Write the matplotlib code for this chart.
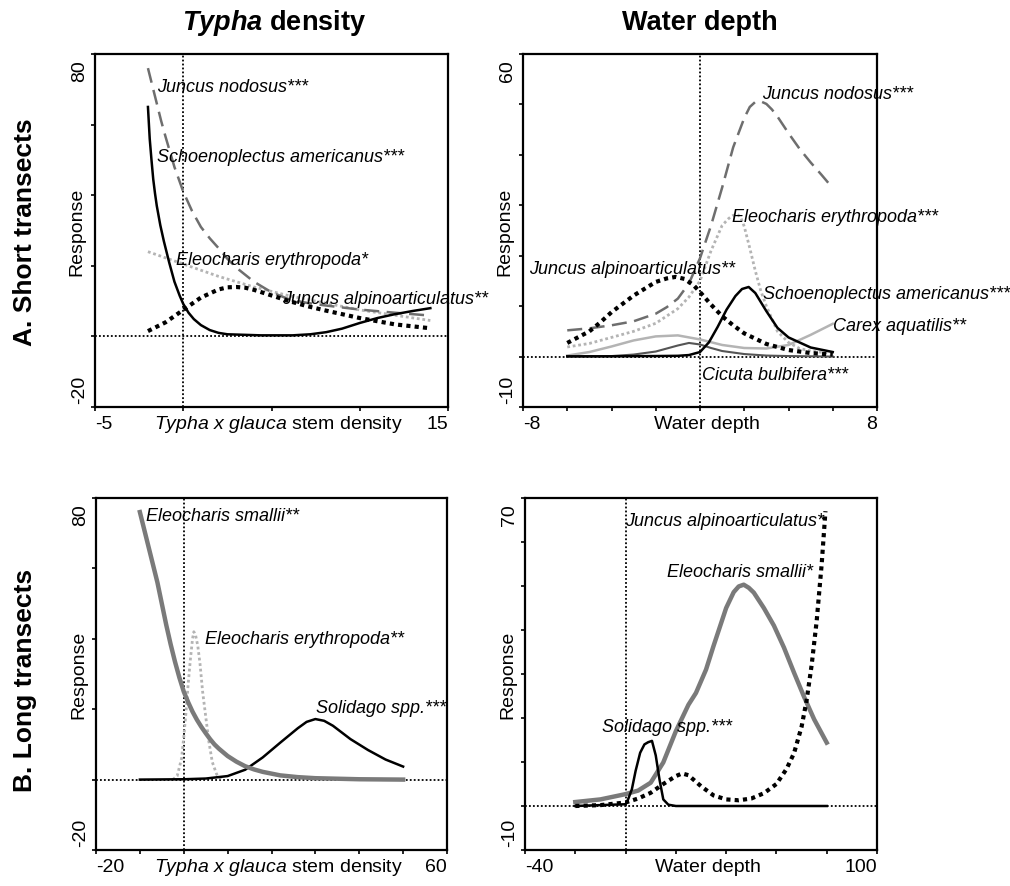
import matplotlib
matplotlib.use("Agg")
import matplotlib.pyplot as plt
import numpy as np

plt.rcParams['font.family'] = ['Liberation Sans', 'DejaVu Sans']
plt.rcParams['mathtext.fontset'] = 'custom'
plt.rcParams['mathtext.it'] = 'Liberation Sans:italic'
plt.rcParams['mathtext.rm'] = 'Liberation Sans'
plt.rcParams['mathtext.bf'] = 'Liberation Sans:bold:italic'

# ---------------- Data ----------------
# Panel A-left: Short transects, Typha density
a1_jn_x = [-2, -1.75, -1.5, -1.25, -1, -0.5, 0, 0.5, 1, 1.5, 2, 2.5, 3, 4, 5, 6, 7, 8, 10, 12, 14]
a1_jn_y = [76, 71, 66, 61, 56.5, 48, 41, 35.5, 31, 27.8, 25, 22, 19.5, 15.5, 12.5, 10.5, 9.5, 8.8, 7.6, 6.7, 5.9]
a1_sa_x = [-2, -1.9, -1.8, -1.7, -1.6, -1.5, -1.3, -1.1, -0.8, -0.5, -0.2, 0, 0.3, 0.6, 1, 1.5, 2, 2.5, 4.4, 6.2, 7.2, 8.1, 9, 10, 11, 11.9, 13, 14]
a1_sa_y = [65, 56, 50, 44.5, 40.5, 37, 31.5, 27, 21, 15.5, 11.5, 9.2, 6.7, 4.9, 3.2, 1.8, 1.0, 0.6, 0.3, 0.3, 0.6, 1.2, 2.2, 3.8, 5.2, 6.2, 7.2, 8]
a1_ee_x = [-2, 0, 2, 4, 6, 8, 10, 12, 14]
a1_ee_y = [24, 20.5, 17, 14, 11.5, 9.5, 7.5, 6, 4.5]
a1_ja_x = [-2, -1, 0, 1, 2, 2.5, 3, 3.5, 4, 5, 6, 7, 8, 10, 12, 14]
a1_ja_y = [1.5, 4, 7.5, 11, 13.3, 13.9, 14, 13.8, 13.2, 11.6, 10, 8.6, 7.4, 5.2, 3.4, 2.3]

# Panel A-right: Short transects, water depth
a2_jn_x = [-6, -5, -4, -3, -2, -1.5, -1, -0.5, 0, 0.5, 1, 1.5, 2, 2.25, 2.5, 2.75, 3, 3.25, 3.5, 4, 4.5, 5, 5.5, 6]
a2_jn_y = [5.2, 5.6, 6.2, 7, 8.5, 9.8, 11.5, 14.5, 19.5, 26, 33.5, 41.5, 47.3, 49.5, 50.5, 50.6, 50.1, 49, 47.6, 44.3, 41.2, 38.5, 36, 33.4]
a2_ee_x = [-6, -5, -4, -3, -2, -1, -0.5, 0, 0.5, 1, 1.3, 1.5, 1.7, 1.85, 2, 2.25, 2.5, 2.75, 3, 3.5, 4, 4.5, 5, 6]
a2_ee_y = [1.9, 2.6, 3.8, 5, 6.6, 9.5, 11.8, 15, 21, 26, 27.4, 28, 28.2, 27.5, 25.8, 21.5, 17, 13, 10, 5, 2.8, 1.6, 1.1, 0.6]
a2_ja_x = [-6, -5, -4.5, -4, -3, -2, -1.5, -1.1, -0.7, -0.3, 0, 0.5, 1, 1.5, 2, 3, 4, 5, 6]
a2_ja_y = [2.7, 5.0, 6.8, 8.8, 12.1, 14.8, 15.5, 15.8, 15.4, 14.2, 12.8, 10.3, 8.0, 6.2, 4.6, 2.5, 1.3, 0.7, 0.4]
a2_sa_x = [-6, -4, -2, -1, -0.5, 0, 0.4, 0.8, 1.2, 1.6, 1.9, 2.2, 2.5, 2.75, 3.0, 3.5, 4.0, 5.0, 6.0]
a2_sa_y = [0.05, 0.05, 0.1, 0.15, 0.3, 0.9, 2.8, 5.9, 9.3, 12.0, 13.4, 13.8, 12.6, 10.8, 9.0, 5.7, 3.8, 1.8, 0.9]
a2_ca_x = [-6, -5, -4, -3, -2, -1, 0, 1, 2, 3, 4, 5, 6]
a2_ca_y = [0.2, 0.9, 2.0, 3.2, 4.0, 4.2, 3.4, 2.3, 1.7, 1.6, 2.3, 4.3, 6.5]
a2_cb_x = [-6, -4, -3, -2, -1, -0.5, 0, 0.5, 1, 2, 3, 4, 6]
a2_cb_y = [0, 0.1, 0.4, 1.0, 2.2, 2.7, 2.4, 1.7, 1.1, 0.5, 0.2, 0.1, 0]

# Panel B-left: Long transects, Typha density
b1_es_x = [-10, -9, -8, -7, -6, -5, -4, -3, -2, -1, 0, 1, 2, 3, 4, 5, 6, 7, 8, 10, 12, 14, 16, 18, 22, 26, 30, 40, 50]
b1_es_y = [76, 71, 66, 61, 56, 50, 44, 38.5, 33.5, 29, 25, 22, 19.3, 17, 15, 13.2, 11.5, 10, 8.8, 6.7, 5.1, 3.8, 2.9, 2.2, 1.2, 0.7, 0.4, 0.1, 0]
b1_ee_x = [-2.5, -1.5, -0.5, 0, 0.5, 1, 1.5, 2, 2.3, 2.7, 3.2, 3.7, 4.3, 5, 5.7, 6.5, 7.5, 8.5]
b1_ee_y = [0, 1, 6, 12, 19, 27, 34, 40, 42, 41, 38, 33, 25, 18, 11, 5, 1.5, 0.2]
b1_so_x = [-10, 0, 5, 10, 14, 18, 22, 26, 28, 30, 32, 34, 38, 42, 46, 50]
b1_so_y = [0, 0.1, 0.3, 1.0, 2.8, 6.3, 10.5, 14.6, 16.4, 17.2, 16.7, 15.3, 11.5, 8.4, 5.7, 3.7]

# Panel B-right: Long transects, water depth
b2_es_x = [-20, -10, 0, 5, 10, 15, 20, 25, 28, 32, 35, 40, 43, 45, 47, 49, 51, 55, 59, 63, 67, 71, 75, 80]
b2_es_y = [0.9, 1.5, 2.7, 3.5, 5.3, 9.9, 17, 23, 25.7, 31, 36.4, 45, 48.6, 49.9, 50.3, 49.6, 48.5, 45, 41, 36, 30.3, 24.8, 19.7, 14.4]
b2_ja_x = [-20, -10, 0, 5, 10, 15, 20, 22.5, 25, 30, 35, 40, 45, 50, 55, 60, 64, 67, 70, 72, 74, 76, 78, 79.5]
b2_ja_y = [0, 0.2, 0.8, 1.7, 3.0, 5.0, 6.8, 7.4, 7.0, 4.5, 2.4, 1.5, 1.3, 1.7, 2.9, 5.0, 8.4, 12, 18, 24, 32, 42, 55, 67]
b2_so_x = [-20, 0, 1, 2.5, 4, 5.8, 7.5, 9, 10.5, 12, 13.5, 15, 17, 20, 30, 50, 80]
b2_so_y = [0, 0.4, 1.5, 3.8, 8, 12.1, 14, 14.5, 14.8, 11.5, 6, 1.5, 0.3, 0, 0, 0, 0]

# axis definitions
a1_xlim, a1_ylim = (-5, 15), (-20, 80)
a2_xlim, a2_ylim = (-8, 8), (-10, 60)
b1_xlim, b1_ylim = (-20, 60), (-20, 80)
b2_xlim, b2_ylim = (-40, 100), (-10, 70)

# ---------------- Styles ----------------
DARKGRAY = '#6e6e6e'
LIGHTGRAY = '#b4b4b4'
MIDGRAY = '#7a7a7a'

sty_dash = dict(color=DARKGRAY, lw=1.8, ls=(0, (6, 3)))
sty_black = dict(color='black', lw=1.8, ls='-')
sty_ldot = dict(color=LIGHTGRAY, lw=2.0, ls=(0, (1, 1)))
sty_bdot = dict(color='black', lw=3.0, ls=(0, (1, 1)))
sty_thick = dict(color=MIDGRAY, lw=3.2, ls='-')
sty_lsolid = dict(color=LIGHTGRAY, lw=1.8, ls='-')
sty_dsolid = dict(color='#555555', lw=1.5, ls='-')

W, H = 1010, 887
fig = plt.figure(figsize=(W / 100, H / 100), dpi=100)


def px_axes(l, t, r, b):
    return fig.add_axes([l / W, 1 - b / H, (r - l) / W, (b - t) / H])


LBL = 13
AX = 14


def setup(ax, xlim, ylim, xstep, ystep, yl_txt_lo, yl_txt_hi, xlab, xl_lo, xl_hi):
    ax.set_xlim(*xlim)
    ax.set_ylim(*ylim)
    ax.set_xticks(np.arange(xlim[0], xlim[1] + 0.001, xstep))
    ax.set_yticks(np.arange(ylim[0], ylim[1] + 0.001, ystep))
    ax.tick_params(direction='out', length=3, width=1.2, labelbottom=False, labelleft=False)
    for s in ax.spines.values():
        s.set_linewidth(1.6)
    ax.axhline(0, color='black', lw=1.3, ls=(0, (1, 1.2)), zorder=1)
    ax.axvline(0, color='black', lw=1.3, ls=(0, (1, 1.2)), zorder=1)
    ax.text(-0.043, 0.985, yl_txt_hi, rotation=90, ha='center', va='top',
            transform=ax.transAxes, fontsize=AX)
    ax.text(-0.043, 0.01, yl_txt_lo, rotation=90, ha='center', va='bottom',
            transform=ax.transAxes, fontsize=AX)
    ax.text(0.0, -0.047, xl_lo, ha='left', va='center', transform=ax.transAxes, fontsize=AX)
    ax.text(1.0, -0.047, xl_hi, ha='right', va='center', transform=ax.transAxes, fontsize=AX)
    ax.text(0.52, -0.047, xlab, ha='center', va='center', transform=ax.transAxes, fontsize=AX)
    ax.text(-0.05, 0.5, 'Response', rotation=90, ha='center', va='center',
            transform=ax.transAxes, fontsize=AX)


def lab(ax, x, y, s):
    ax.text(x, y, s, style='italic', fontsize=LBL, ha='left', va='center', zorder=5,
            clip_on=False)


typha_lab = r'$\it{Typha\ x\ glauca}$ stem density'

# ---- Panel A1 ----
ax1 = px_axes(95, 55, 448, 408)
setup(ax1, a1_xlim, a1_ylim, 5, 20, '-20', '80', typha_lab, '-5', '15')
ax1.plot(a1_ee_x, a1_ee_y, **sty_ldot)
ax1.plot(a1_jn_x, a1_jn_y, **sty_dash)
ax1.plot(a1_ja_x, a1_ja_y, **sty_bdot)
ax1.plot(a1_sa_x, a1_sa_y, **sty_black)
lab(ax1, -1.49, 70.7, 'Juncus nodosus***')
lab(ax1, -1.49, 51.1, 'Schoenoplectus americanus***')
lab(ax1, -0.41, 21.9, 'Eleocharis erythropoda*')
lab(ax1, 5.6, 10.6, 'Juncus alpinoarticulatus**')

# ---- Panel A2 ----
ax2 = px_axes(523, 55, 877, 408)
setup(ax2, a2_xlim, a2_ylim, 2, 10, '-10', '60', 'Water depth', '-8', '8')
ax2.plot(a2_ca_x, a2_ca_y, **sty_lsolid)
ax2.plot(a2_cb_x, a2_cb_y, **sty_dsolid)
ax2.plot(a2_ee_x, a2_ee_y, **sty_ldot)
ax2.plot(a2_jn_x, a2_jn_y, **sty_dash)
ax2.plot(a2_ja_x, a2_ja_y, **sty_bdot)
ax2.plot(a2_sa_x, a2_sa_y, **sty_black)
lab(ax2, 2.8, 52.1, 'Juncus nodosus***')
lab(ax2, 1.45, 27.7, 'Eleocharis erythropoda***')
lab(ax2, -7.73, 17.4, 'Juncus alpinoarticulatus**')
lab(ax2, 2.85, 12.6, 'Schoenoplectus americanus***')
lab(ax2, 6.0, 6.1, 'Carex aquatilis**')
lab(ax2, 0.09, -3.5, 'Cicuta bulbifera***')

# ---- Panel B1 ----
ax3 = px_axes(96, 499, 447, 851)
setup(ax3, b1_xlim, b1_ylim, 10, 20, '-20', '80', typha_lab, '-20', '60')
ax3.plot(b1_ee_x, b1_ee_y, **sty_ldot)
ax3.plot(b1_so_x, b1_so_y, **sty_black)
ax3.plot(b1_es_x, b1_es_y, **sty_thick)
lab(ax3, -8.6, 74.9, 'Eleocharis smallii**')
lab(ax3, 4.8, 40.2, 'Eleocharis erythropoda**')
lab(ax3, 30.1, 20.6, 'Solidago spp.***')

# ---- Panel B2 ----
ax4 = px_axes(525, 499, 877, 851)
setup(ax4, b2_xlim, b2_ylim, 20, 10, '-10', '70', 'Water depth', '-40', '100')
ax4.plot(b2_es_x, b2_es_y, **sty_thick)
ax4.plot(b2_ja_x, b2_ja_y, **sty_bdot)
ax4.plot(b2_so_x, b2_so_y, **sty_black)
lab(ax4, -0.2, 64.8, 'Juncus alpinoarticulatus*')
lab(ax4, 16.5, 53.2, 'Eleocharis smallii*')
lab(ax4, -9.4, 18.0, 'Solidago spp.***')

# ---- Titles / row labels ----
fig.text(274 / W, 1 - 23 / H, r'$\mathbf{Typha}$ density', ha='center', va='center',
         fontsize=19.5, fontweight='bold')
fig.text(700 / W, 1 - 23 / H, 'Water depth', ha='center', va='center',
         fontsize=19.5, fontweight='bold')
fig.text(25 / W, 1 - 232 / H, 'A. Short transects', rotation=90, ha='center', va='center',
         fontsize=19, fontweight='bold')
fig.text(25 / W, 1 - 680 / H, 'B. Long transects', rotation=90, ha='center', va='center',
         fontsize=19, fontweight='bold')

fig.savefig('out.png', dpi=100)
